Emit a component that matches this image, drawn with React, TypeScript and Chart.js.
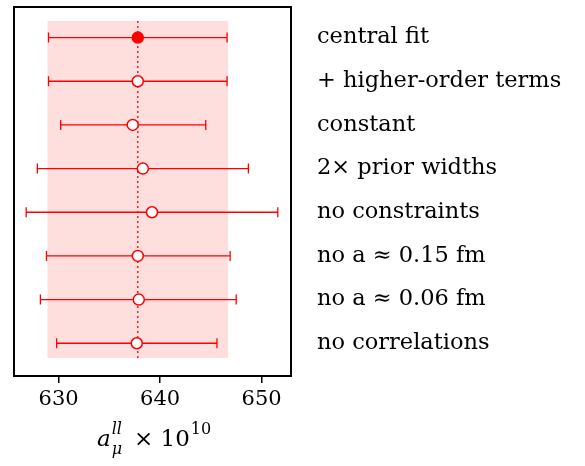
import { useEffect, useRef } from "react";
import { Chart, registerables } from "chart.js";

Chart.register(...registerables);

const labels = [
  "central fit",
  "+ higher-order terms",
  "constant",
  "2\u00d7 prior widths",
  "no constraints",
  "no a \u2248 0.15 fm",
  "no a \u2248 0.06 fm",
  "no correlations",
];
const centers = [637.8, 637.8, 637.3, 638.3, 639.2, 637.8, 637.9, 637.7];
const lows = [629.0, 629.0, 630.2, 627.9, 626.8, 628.8, 628.2, 629.8];
const highs = [646.6, 646.6, 644.5, 648.7, 651.6, 646.9, 647.5, 645.6];
const band = [628.9, 646.7];
const xTicks = [630, 640, 650];

const RED = "#ff0000";
const FONT = "'DejaVu Serif', serif";

const drawPlugin = {
  id: "extras",
  beforeDatasetsDraw(chart: any) {
    const { ctx, chartArea: a, scales } = chart;
    const x = scales.x, y = scales.y;
    ctx.save();
    ctx.fillStyle = "rgba(255,0,0,0.13)";
    ctx.fillRect(x.getPixelForValue(band[0]), a.top + 14, x.getPixelForValue(band[1]) - x.getPixelForValue(band[0]), a.bottom - a.top - 32);
    ctx.strokeStyle = RED;
    ctx.lineWidth = 1.3;
    ctx.setLineDash([2, 3]);
    ctx.beginPath();
    const cx = x.getPixelForValue(centers[0]);
    ctx.moveTo(cx, a.top + 14);
    ctx.lineTo(cx, a.bottom - 16);
    ctx.stroke();
    ctx.setLineDash([]);
    lows.forEach((lo, i) => {
      const py = y.getPixelForValue(i);
      const xl = x.getPixelForValue(lo), xh = x.getPixelForValue(highs[i]);
      ctx.beginPath();
      ctx.moveTo(xl, py); ctx.lineTo(xh, py);
      ctx.moveTo(xl, py - 5); ctx.lineTo(xl, py + 5);
      ctx.moveTo(xh, py - 5); ctx.lineTo(xh, py + 5);
      ctx.stroke();
    });
    ctx.restore();
  },
  afterDraw(chart: any) {
    const { ctx, chartArea: a } = chart;
    ctx.save();
    ctx.strokeStyle = "#000";
    ctx.lineWidth = 2;
    ctx.strokeRect(a.left, a.top, a.right - a.left, a.bottom - a.top);
    // axis title
    const by = 446;
    ctx.fillStyle = "#000";
    ctx.textBaseline = "alphabetic";
    let px = 97;
    ctx.font = `italic 23px ${FONT}`;
    ctx.fillText("a", px, by);
    const aw = ctx.measureText("a").width;
    ctx.font = `italic 16px ${FONT}`;
    ctx.fillText("ll", px + aw + 1, by - 12);
    ctx.fillText("\u03bc", px + aw + 1, by + 8);
    px += aw + 16;
    ctx.font = `23px ${FONT}`;
    ctx.fillText(" \u00d7 10", px, by);
    px += ctx.measureText(" \u00d7 10").width + 1;
    ctx.font = `16px ${FONT}`;
    ctx.fillText("10", px, by - 12);
    ctx.restore();
  },
};

export default function App() {
  const canvasRef = useRef<HTMLCanvasElement | null>(null);
  const chartRef = useRef<Chart | null>(null);

  useEffect(() => {
    if (!canvasRef.current) return;
    chartRef.current?.destroy();
    chartRef.current = new Chart(canvasRef.current, {
      type: "scatter",
      data: {
        datasets: [
          {
            data: centers.map((c, i) => ({ x: c, y: i })),
            pointRadius: 5.5,
            pointBorderWidth: 1.5,
            borderColor: RED,
            pointBackgroundColor: centers.map((_, i) => (i === 0 ? RED : "#fff")),
          } as any,
        ],
      },
      options: {
        animation: false,
        responsive: false,
        layout: { padding: { left: 14, top: 4, right: 0, bottom: 0 } },
        plugins: { legend: { display: false }, tooltip: { enabled: false } },
        scales: {
          x: {
            min: 625.6,
            max: 652.9,
            grid: { display: true, drawOnChartArea: false, drawTicks: true, tickLength: 7, color: "#000", lineWidth: 1.5 },
            border: { display: false },
            afterBuildTicks: (s: any) => { s.ticks = xTicks.map((v) => ({ value: v })); },
            afterFit: (s: any) => { s.height = 90; s.paddingLeft = 0; s.paddingRight = 0; },
            ticks: { color: "#000", font: { family: FONT, size: 21 }, padding: 4 },
          },
          y: {
            position: "right",
            reverse: true,
            min: -0.7,
            max: 7.75,
            grid: { display: false },
            border: { display: false },
            afterBuildTicks: (s: any) => { s.ticks = labels.map((_, i) => ({ value: i })); },
            afterFit: (s: any) => { s.width = 585 - 291; s.paddingTop = 0; s.paddingBottom = 0; },
            ticks: {
              color: "#000",
              font: { family: FONT, size: 22.5 },
              padding: 18,
              callback: (v: any) => labels[v],
            },
          },
        },
      },
      plugins: [drawPlugin],
    });
    return () => {
      chartRef.current?.destroy();
    };
  }, []);

  return (
    <div style={{ position: "absolute", left: 0, top: 0, background: "#fff" }}>
      <canvas ref={canvasRef} width={585} height={466} style={{ width: 585, height: 466 }} />
    </div>
  );
}
